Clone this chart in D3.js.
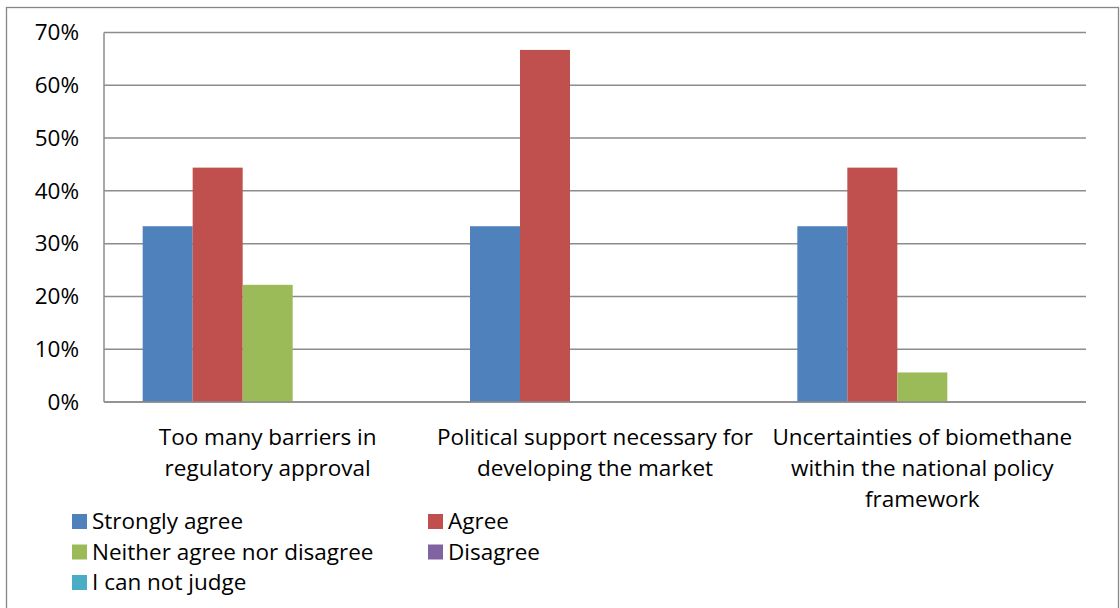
<!DOCTYPE html>
<html>
<head>
<meta charset="utf-8">
<script src="https://cdn.jsdelivr.net/npm/d3@7"></script>
<style>
  html, body { margin: 0; padding: 0; background: #fff; }
  svg { display: block; font-family: "Open Sans", Lato, sans-serif; }
</style>
</head>
<body>
<svg id="chart" width="1120" height="608"></svg>
<script>
// Survey statements on the x axis
const categories = [
  ["Too many barriers in", "regulatory approval"],
  ["Political support necessary for", "developing the market"],
  ["Uncertainties of biomethane", "within the national policy", "framework"]
];
// Response options (one bar per option in each group)
const seriesNames = ["Strongly agree", "Agree", "Neither agree nor disagree", "Disagree", "I can not judge"];
const seriesColors = ["#4F81BD", "#C0504D", "#9BBB59", "#8064A2", "#4BACC6"];
// Share of respondents, one array per response option, in category order
const stronglyAgree = [0.333, 0.333, 0.333];
const agree = [0.444, 0.667, 0.444];
const neither = [0.222, 0, 0.056];
const disagree = [0, 0, 0];
const cannotJudge = [0, 0, 0];
const seriesValues = [stronglyAgree, agree, neither, disagree, cannotJudge];
const yTicks = [0, 0.1, 0.2, 0.3, 0.4, 0.5, 0.6, 0.7];

const svg = d3.select("#chart");
const plot = { left: 104, right: 1086, top: 32.5, bottom: 402 };
const FONT_SIZE = 22.5;

// outer chart frame
svg.append("rect")
  .attr("x", 6.5).attr("y", 7.5)
  .attr("width", 1112).attr("height", 610)
  .attr("fill", "#fff").attr("stroke", "#868686").attr("stroke-width", 1.3);

const x0 = d3.scaleBand().domain(d3.range(categories.length))
  .range([plot.left, plot.right]).paddingInner(0).paddingOuter(0);
const groupInner = 250;
const x1 = d3.scaleBand().domain(d3.range(seriesNames.length))
  .range([(x0.bandwidth() - groupInner) / 2, (x0.bandwidth() + groupInner) / 2]);
const y = d3.scaleLinear().domain([0, 0.7]).range([plot.bottom, plot.top]);

// gridlines
svg.append("g").selectAll("line").data(yTicks).join("line")
  .attr("x1", plot.left).attr("x2", plot.right)
  .attr("y1", d => y(d)).attr("y2", d => y(d))
  .attr("stroke", "#8c8c8c").attr("stroke-width", 1.5);

// y axis labels
const yAxis = d3.axisLeft(y).tickValues(yTicks).tickFormat(d3.format(".0%")).tickSize(0).tickPadding(25);
const yg = svg.append("g").attr("transform", `translate(${plot.left},0)`).call(yAxis);
yg.select(".domain").remove();
yg.selectAll("text").attr("font-size", FONT_SIZE).attr("fill", "#000")
  .attr("font-family", "'Open Sans', sans-serif");

// bars
const groups = svg.append("g").selectAll("g").data(categories).join("g")
  .attr("transform", (d, i) => `translate(${x0(i)},0)`);
groups.selectAll("rect")
  .data((d, i) => seriesValues.map((vals, s) => ({ s, v: vals[i] })))
  .join("rect")
  .attr("x", d => x1(d.s))
  .attr("width", x1.bandwidth())
  .attr("y", d => y(d.v))
  .attr("height", d => plot.bottom - y(d.v))
  .attr("fill", d => seriesColors[d.s]);

// axis lines
svg.append("line").attr("x1", plot.left).attr("x2", plot.left)
  .attr("y1", plot.top).attr("y2", plot.bottom)
  .attr("stroke", "#8c8c8c").attr("stroke-width", 1.5);
svg.append("line").attr("x1", plot.left).attr("x2", plot.right)
  .attr("y1", plot.bottom).attr("y2", plot.bottom)
  .attr("stroke", "#8c8c8c").attr("stroke-width", 1.5);

// category labels
const catLabels = svg.append("g").selectAll("text").data(categories).join("text")
  .attr("x", (d, i) => x0(i) + x0.bandwidth() / 2)
  .attr("y", 445)
  .attr("text-anchor", "middle")
  .attr("font-size", FONT_SIZE)
  .attr("fill", "#000");
catLabels.selectAll("tspan").data(d => d).join("tspan")
  .attr("x", function () { return this.parentNode.getAttribute("x"); })
  .attr("dy", (d, i) => i === 0 ? 0 : 31)
  .text(d => d);

// legend: [x, baseline] of each entry
const legendPos = [[72, 529], [428, 529], [72, 559.5], [428, 559.5], [72, 590]];
const leg = svg.append("g").selectAll("g").data(seriesNames).join("g")
  .attr("transform", (d, i) => `translate(${legendPos[i][0]},${legendPos[i][1]})`);
leg.append("rect").attr("x", 0).attr("y", -15).attr("width", 15).attr("height", 15)
  .attr("fill", (d, i) => seriesColors[i]);
leg.append("text").attr("x", 20).attr("y", 0).attr("font-size", FONT_SIZE).attr("fill", "#000").text(d => d);
</script>
</body>
</html>
